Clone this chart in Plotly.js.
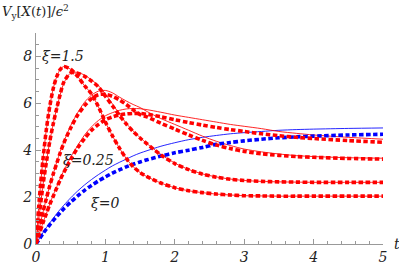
<!DOCTYPE html>
<html><head><meta charset="utf-8">
<script src="https://cdn.plot.ly/plotly-3.0.1.min.js"></script>
<style>html,body{margin:0;padding:0;background:#fff}#plot{width:399px;height:268px}</style>
</head><body><div id="plot"></div>
<script>
const t = [0,0.05,0.1,0.15,0.2,0.25,0.3,0.35,0.4,0.5,0.6,0.7,0.8,0.9,1.0,1.1,1.2,1.3,1.4,1.5,1.6,1.8,2.0,2.2,2.4,2.6,2.8,3.0,3.25,3.5,3.75,4.0,4.5,5.0];

// xi = 0 (blue)
const xi0Solid  = [0,0.24,0.48,0.7,0.9,1.1,1.3,1.48,1.65,1.97,2.26,2.52,2.75,2.96,3.15,3.33,3.48,3.62,3.76,3.88,3.98,4.17,4.32,4.45,4.55,4.63,4.7,4.75,4.8,4.85,4.88,4.9,4.93,4.95];
const xi0Dotted = [0,0.22,0.44,0.64,0.83,1.01,1.18,1.34,1.5,1.79,2.05,2.29,2.5,2.69,2.86,3.02,3.16,3.29,3.4,3.5,3.59,3.75,3.89,4.0,4.12,4.25,4.33,4.4,4.47,4.53,4.57,4.6,4.65,4.68];

// xi = 0.25
const xiDSolid  = [0,0.45,0.9,1.3,1.72,2.1,2.45,2.8,3.12,3.7,4.2,4.65,5.0,5.27,5.47,5.6,5.7,5.76,5.78,5.77,5.73,5.62,5.5,5.4,5.3,5.2,5.1,5.02,4.92,4.8,4.72,4.65,4.55,4.47];
const xiDDotted = [0,0.45,0.9,1.3,1.7,2.05,2.4,2.75,3.05,3.6,4.1,4.5,4.85,5.1,5.3,5.42,5.5,5.55,5.57,5.57,5.53,5.43,5.3,5.18,5.07,4.97,4.88,4.8,4.7,4.62,4.55,4.5,4.41,4.34];

// intermediate xi (third family)
const xiCSolid  = [0,0.7,1.35,1.95,2.5,3.0,3.5,3.95,4.35,5.05,5.6,6.05,6.35,6.52,6.55,6.45,6.27,6.1,5.95,5.82,5.65,5.35,5.1,4.85,4.6,4.38,4.2,4.05,3.93,3.84,3.77,3.73,3.68,3.66];
const xiCDotted = [0,0.7,1.35,1.95,2.5,3.0,3.45,3.9,4.3,4.95,5.5,5.9,6.2,6.37,6.38,6.3,6.15,5.95,5.72,5.52,5.42,5.15,4.9,4.65,4.42,4.22,4.07,3.95,3.85,3.78,3.73,3.7,3.65,3.62];

// second family
const xiBSolid  = [0,1.3,2.5,3.5,4.4,5.15,5.8,6.38,6.85,7.3,7.32,7.2,7.0,6.75,6.4,5.98,5.55,5.15,4.82,4.54,4.28,3.82,3.45,3.18,2.99,2.86,2.77,2.71,2.67,2.65,2.64,2.63,2.63,2.63];
const xiBDotted = [0,1.3,2.5,3.5,4.4,5.15,5.8,6.4,6.9,7.3,7.28,7.15,6.95,6.7,6.3,5.9,5.5,5.12,4.8,4.52,4.27,3.8,3.43,3.17,2.98,2.85,2.76,2.71,2.67,2.65,2.64,2.63,2.63,2.63];

// xi = 1.5
const xiASolid  = [0,2.0,3.6,4.9,5.9,6.65,7.15,7.45,7.57,7.45,7.15,6.75,6.4,5.85,5.2,4.62,4.1,3.65,3.3,3.05,2.87,2.6,2.4,2.27,2.19,2.13,2.09,2.06,2.05,2.04,2.04,2.04,2.04,2.04];
const xiADotted = [0,2.0,3.6,4.9,5.9,6.65,7.15,7.45,7.57,7.45,7.15,6.75,6.4,5.85,5.2,4.62,4.1,3.65,3.3,3.05,2.87,2.6,2.4,2.27,2.19,2.13,2.09,2.06,2.05,2.04,2.04,2.04,2.04,2.04];

const xTicks = [0,1,2,3,4,5];
const yTicks = [0,2,4,6,8];

const labels = [
  {text:'ξ=1.5', x:0.39, y:8.0},
  {text:'ξ=0.25', x:0.76, y:3.57},
  {text:'ξ=0', x:1.0, y:1.74}
];

const RED='#ff0000', BLUE='#0000ff';
const SERIF = 'DejaVu Serif';
const solid = (y,c)=>({x:t,y:y,type:'scatter',mode:'lines',line:{color:c,width:1,shape:'spline',smoothing:0.8},opacity:0.85,hoverinfo:'skip'});
const dotted = (y,c)=>({x:t,y:y,type:'scatter',mode:'lines',line:{color:c,width:3.6,dash:'4.5px,2.5px',shape:'spline',smoothing:0.8},hoverinfo:'skip'});

const data = [
  solid(xi0Solid,BLUE), solid(xiDSolid,RED), solid(xiCSolid,RED), solid(xiBSolid,RED), solid(xiASolid,RED),
  dotted(xi0Dotted,BLUE), dotted(xiDDotted,RED), dotted(xiCDotted,RED), dotted(xiBDotted,RED), dotted(xiADotted,RED)
];

const tickFont = {family:SERIF, size:14, color:'#222'};
const axisCommon = {
  showgrid:false, zeroline:false, showline:true, linecolor:'#999', linewidth:1,
  ticks:'inside', ticklen:5, tickcolor:'#999', tickwidth:1,
  tickfont:tickFont, fixedrange:true
};

const annotations = labels.map(l=>({
  text:'<i>'+l.text+'</i>', x:l.x, y:l.y, xref:'x', yref:'y', showarrow:false,
  font:{family:SERIF, size:14, color:'#222'}
}));
annotations.push({
  text:'<i>V</i><sub>y</sub>[<i>X</i>(<i>t</i>)]/<i>ϵ</i><sup>2</sup>',
  xref:'paper', yref:'paper', x:-0.104, y:1.10, xanchor:'left', yanchor:'middle', showarrow:false,
  font:{family:SERIF, size:13, color:'#222'}
});
annotations.push({
  text:'<i>t</i>', xref:'paper', yref:'y', x:1.04, y:0, xanchor:'center', yanchor:'middle',
  showarrow:false, font:{family:SERIF, size:14, color:'#222'}
});

const layout = {
  width:399, height:268,
  margin:{l:36, r:16, t:33, b:24},
  paper_bgcolor:'#fff', plot_bgcolor:'#fff',
  showlegend:false,
  xaxis: Object.assign({}, axisCommon, {range:[0,5], tickvals:xTicks, ticktext:xTicks.map(v=>'<i>'+v+'</i>'),
    minor:{ticks:'inside', ticklen:3, tickcolor:'#999', dtick:0.2, tick0:0, showgrid:false}}),
  yaxis: Object.assign({}, axisCommon, {range:[0,9], tickvals:yTicks, ticktext:yTicks.map(v=>'<i>'+v+'</i>'),
    minor:{ticks:'inside', ticklen:3, tickcolor:'#999', dtick:0.5, tick0:0, showgrid:false}}),
  annotations: annotations
};

Plotly.newPlot('plot', data, layout, {displayModeBar:false, staticPlot:true});
</script>
</body></html>
